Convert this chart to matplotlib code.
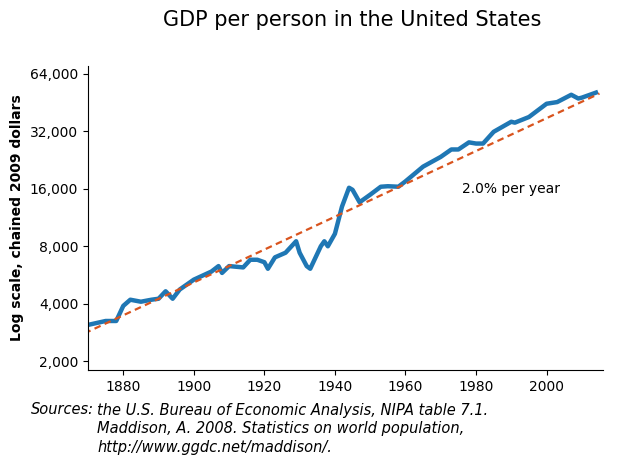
import matplotlib.pyplot as plt
import numpy as np

years = [1870, 1875, 1878, 1880, 1882, 1885, 1888, 1890, 1892, 1894, 1896, 1900, 1905, 1907, 1908,
         1910, 1914, 1916, 1918, 1920, 1921, 1923, 1926, 1929, 1930, 1932, 1933, 1936, 1937, 1938,
         1940, 1942, 1944, 1945, 1947, 1950, 1953, 1955, 1958, 1960, 1965, 1970, 1973, 1975, 1978,
         1980, 1982, 1985, 1990, 1991, 1995, 2000, 2003, 2007, 2009, 2010, 2014]
gdp = [3100, 3250, 3250, 3900, 4200, 4100, 4200, 4250, 4650, 4250, 4750, 5350, 5900, 6300, 5800,
       6300, 6200, 6800, 6800, 6600, 6100, 7000, 7400, 8500, 7400, 6300, 6100, 8000, 8500, 8000,
       9300, 12900, 16200, 15800, 13600, 14900, 16400, 16500, 16400, 17500, 20900, 23500, 25700, 25700, 28000,
       27600, 27600, 31800, 35900, 35500, 38000, 44600, 45500, 49700, 47500, 48000, 51000]
trend_years = np.array([1869, 2015])
trend_start = 2800
trend_rate = 0.02

fig = plt.figure(figsize=(6.18, 4.71), dpi=100)
ax = fig.add_axes([88 / 618, 1 - 370 / 471, 515 / 618, 304 / 471])

ax.plot(years, gdp, color='#1f77b4', linewidth=3.2, solid_joinstyle='round')
ax.plot(trend_years, trend_start * (1 + trend_rate) ** (trend_years - 1869),
        color='#d9541e', linestyle=(0, (3, 2)), linewidth=1.6)

ax.set_yscale('log')
yt = [2000, 4000, 8000, 16000, 32000, 64000]
ax.set_yticks(yt)
ax.set_yticklabels([f'{v:,}' for v in yt])
ax.minorticks_off()
ax.set_ylim(1800, 70300)
ax.set_xlim(1870, 2016)
ax.set_xticks(range(1880, 2001, 20))
ax.tick_params(labelsize=10)
for s in ['top', 'right']:
    ax.spines[s].set_visible(False)
ax.set_ylabel('Log scale, chained 2009 dollars', fontsize=10, fontweight='bold')
ax.text(1976, 16000, '2.0% per year', fontsize=10, va='center')

fig.text(0.57, 0.945, 'GDP per person in the United States', ha='center', fontsize=15)
fig.text(0.05, 0.12, 'Sources:', fontsize=10.5, style='italic')
src = ('the U.S. Bureau of Economic Analysis, NIPA table 7.1.\n'
       'Maddison, A. 2008. Statistics on world population,\n'
       'http://www.ggdc.net/maddison/.')
fig.text(0.157, 0.145, src, fontsize=10.5, style='italic', va='top', linespacing=1.3)

fig.savefig('out.png')
